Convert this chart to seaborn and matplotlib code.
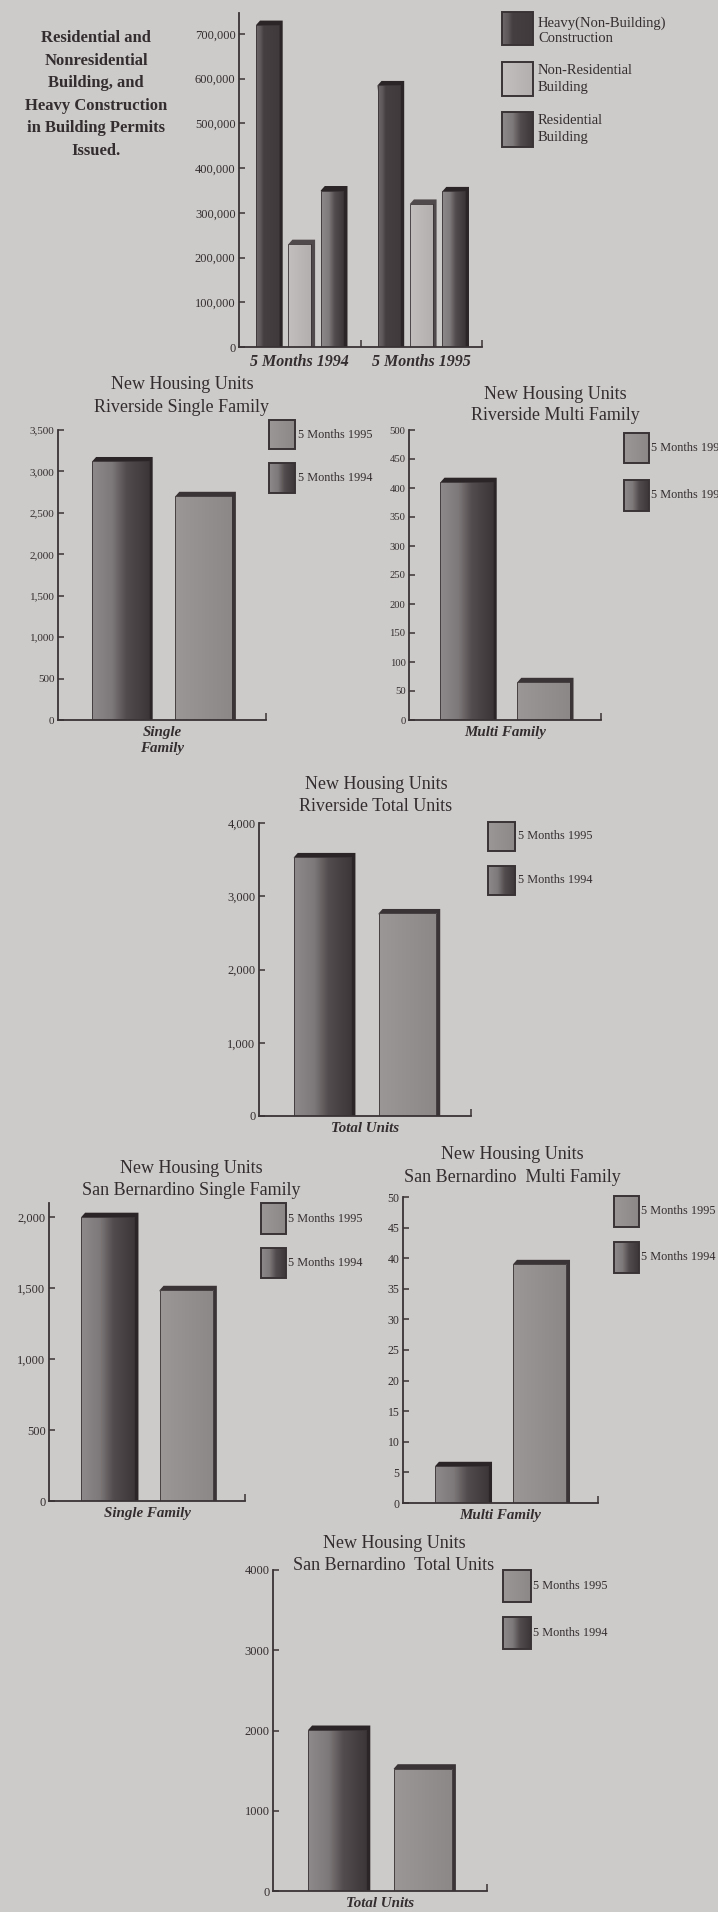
import numpy as np
import pandas as pd
import matplotlib
matplotlib.use("Agg")
import matplotlib.pyplot as plt
from matplotlib.patches import Rectangle, Polygon
from matplotlib.colors import LinearSegmentedColormap
from matplotlib.ticker import FuncFormatter, MultipleLocator
import seaborn as sns

# ---------------- data ----------------
permit_periods = ["5 Months 1994", "5 Months 1995"]
permit_types = ["Heavy(Non-Building) Construction", "Non-Residential Building", "Residential Building"]
heavy_construction = [720000, 585000]
nonresidential_building = [230000, 320000]
residential_building = [350000, 348000]

housing_periods = ["5 Months 1994", "5 Months 1995"]
riverside_single = [3120, 2700]
riverside_multi = [410, 65]
riverside_total = [3530, 2765]
sb_single = [2000, 1485]
sb_multi = [6, 39]
sb_total = [2006, 1524]

# ---------------- look ----------------
W, H, DPI = 718, 1912, 100
PAPER = "#cdcbc9"
INK = "#332d2f"
EDGE = "#3a3335"

sns.set_theme(style="white")
plt.rcParams["font.family"] = ["Liberation Serif", "DejaVu Serif"]
plt.rcParams["text.color"] = INK

STYLES = {
    "heavy": dict(stops=[(0, "#6e686a"), (0.2, "#5e5759"), (0.34, "#463f41"), (1, "#413a3c")],
                  cap="#2b2527"),
    "nonres": dict(stops=[(0, "#c2bfbe"), (1, "#b2afae")], cap="#514a4c"),
    "resid": dict(stops=[(0, "#8e898a"), (0.35, "#7d7879"), (0.6, "#534c4e"), (1, "#3d3638")],
                  cap="#2b2527"),
    "y1995": dict(stops=[(0, "#9b9797"), (1, "#8c8888")], cap="#3b3436"),
}
for s in STYLES.values():
    s["cmap"] = LinearSegmentedColormap.from_list("", s["stops"])
    s["base"] = s["stops"][-1][1]

GRAD = np.linspace(0, 1, 256)[None, :]

fig = plt.figure(figsize=(W / DPI, H / DPI), dpi=DPI, facecolor=PAPER)


def px_axes(l, t, r, b):
    ax = fig.add_axes([l / W, 1 - b / H, (r - l) / W, (b - t) / H])
    ax.set_facecolor("none")
    return ax


def fig_text(x, y, s, **kw):
    kw.setdefault("color", INK)
    return fig.text(x / W, 1 - y / H, s, **kw)


def comma(v, _):
    return f"{int(round(v)):,}"


def plain(v, _):
    return f"{int(round(v))}"


def style_axes(ax, xlim, ylim, step, fmt, tick_size, end_ticks):
    for s in ("top", "right"):
        ax.spines[s].set_visible(False)
    for s in ("left", "bottom"):
        ax.spines[s].set_color(EDGE)
        ax.spines[s].set_linewidth(1.3)
    ax.set_xlim(*xlim)
    ax.set_ylim(*ylim)
    ax.yaxis.set_major_locator(MultipleLocator(step))
    ax.yaxis.set_major_formatter(FuncFormatter(fmt))
    ax.tick_params(axis="y", direction="in", length=4, width=1.1, color=EDGE,
                   pad=2.5, labelsize=tick_size, labelcolor=INK, left=True)
    ax.set_xticks(end_ticks, minor=True)
    ax.tick_params(axis="x", which="minor", direction="in", length=5, width=1.1,
                   color=EDGE, bottom=True)
    ax.tick_params(axis="x", which="major", length=0, bottom=True)
    ax.set_xlabel("")
    ax.set_ylabel("")


def shade_bars(ax, container, style, dx_px=4.0, dy_px=4.5):
    """Give each bar a gradient face, a dark top cap and a dark right side."""
    pos = ax.get_position()
    x0, x1 = ax.get_xlim()
    y0, y1 = ax.get_ylim()
    dx = dx_px * (x1 - x0) / (pos.width * W)
    dy = dy_px * (y1 - y0) / (pos.height * H)
    for p in container.patches:
        x, w, h = p.get_x(), p.get_width(), p.get_height()
        shadow = Polygon([(x, h), (x + dx, h + dy), (x + w + dx, h + dy),
                          (x + w + dx, 0), (x + w, 0)], closed=True,
                         fc=style["cap"], ec="none", zorder=1.5)
        ax.add_patch(shadow)
        img = ax.imshow(GRAD, extent=[x, x + w, 0, h], aspect="auto",
                        cmap=style["cmap"], zorder=1.8, interpolation="bilinear")
        img.set_clip_path(p)
        p.set_facecolor("none")
        p.set_edgecolor(EDGE)
        p.set_linewidth(0.6)
        p.set_zorder(1.9)


def swatch(l, t, r, b, style):
    sax = px_axes(l, t, r, b)
    sax.set_axis_off()
    sax.imshow(GRAD, extent=[0, 1, 0, 1], aspect="auto", cmap=style["cmap"],
               interpolation="bilinear")
    sax.set_xlim(0, 1)
    sax.set_ylim(0, 1)
    sax.add_patch(Rectangle((0, 0), 1, 1, fill=False, ec=EDGE, lw=1.4,
                            transform=sax.transAxes, clip_on=False))


# ---------------- building permits ----------------
ax1 = px_axes(239, 13, 482, 347)
permits = pd.DataFrame({
    "period": np.repeat(permit_periods, 3),
    "type": permit_types * 2,
    "value": [v for trio in zip(heavy_construction, nonresidential_building, residential_building)
              for v in trio],
})
sns.barplot(data=permits, x="period", y="value", hue="type", hue_order=permit_types,
            palette=[STYLES[k]["base"] for k in ("heavy", "nonres", "resid")],
            width=0.8, gap=0.3, saturation=1, errorbar=None, legend=False, ax=ax1)
style_axes(ax1, (-0.5, 1.5), (0, 747000), 100000, comma, 9, [0.5, 1.5])
for cont, key in zip(ax1.containers, ("heavy", "nonres", "resid")):
    shade_bars(ax1, cont, STYLES[key])
ax1.set_xlim(-0.5, 1.5)
ax1.set_ylim(0, 747000)
ax1.set_xticks([0, 1])
ax1.set_xticklabels(permit_periods, fontsize=11.5, fontweight="bold",
                    fontstyle="italic", color=INK)
ax1.tick_params(axis="x", which="major", pad=5)

for line, y in zip(["Residential and", "Nonresidential", "Building, and",
                    "Heavy Construction", "in Building Permits", "Issued."],
                   [38, 61, 83, 106, 128, 151]):
    fig_text(96, y, line, ha="center", va="center", fontsize=12, fontweight="bold")

legend1 = [((12, 45), "heavy", ["Heavy(Non-Building)", "Construction"], [23, 39]),
           ((62, 96), "nonres", ["Non-Residential", "Building"], [70, 88]),
           ((112, 147), "resid", ["Residential", "Building"], [120, 137])]
for (t, b), key, lines, ys in legend1:
    swatch(502, t, 533, b, STYLES[key])
    for line, y in zip(lines, ys):
        fig_text(538, y, line, ha="left", va="center", fontsize=10.5)


# ---------------- new housing units ----------------
def housing_chart(box, category, values, ylim, step, fmt, tick_size,
                  title, title_x, title_ys, legend_x, legend_rows, text_x, text_ys):
    ax = px_axes(*box)
    df = pd.DataFrame({"group": [category] * 2, "period": housing_periods,
                       "units": values})
    sns.barplot(data=df, x="group", y="units", hue="period", hue_order=housing_periods,
                palette=[STYLES["resid"]["base"], STYLES["y1995"]["base"]],
                width=0.8, gap=0.32, saturation=1, errorbar=None, legend=False, ax=ax)
    style_axes(ax, (-0.5, 0.5), ylim, step, fmt, tick_size, [0.5])
    for cont, key in zip(ax.containers, ("resid", "y1995")):
        shade_bars(ax, cont, STYLES[key])
    ax.set_xlim(-0.5, 0.5)
    ax.set_ylim(*ylim)
    ax.set_xticks([0])
    ax.set_xticklabels([category], fontsize=10.8, fontweight="bold",
                       fontstyle="italic", color=INK, linespacing=1.3)
    ax.tick_params(axis="x", which="major", pad=4)

    for line, y in zip(title, title_ys):
        fig_text(title_x, y + 6, line, ha="center", va="baseline", fontsize=13)

    l, r = legend_x
    for (t, b), key, label, ty in zip(legend_rows, ("y1995", "resid"),
                                      ("5 Months 1995", "5 Months 1994"), text_ys):
        swatch(l, t, r, b, STYLES[key])
        fig_text(text_x, ty, label, ha="left", va="center", fontsize=8.8)
    return ax


housing_chart((58, 430, 266, 720), "Single\nFamily", riverside_single, (0, 3500), 500,
              comma, 8, ["New Housing Units", "Riverside Single Family"], 182, [383, 406],
              (269, 295), [(420, 449), (463, 493)], 298, [435, 478])

housing_chart((409, 430, 601, 720), "Multi Family", riverside_multi, (0, 500), 50,
              plain, 7.7, ["New Housing Units", "Riverside Multi Family"], 555, [393, 414],
              (624, 649), [(433, 463), (480, 511)], 651, [448, 495])

housing_chart((259, 823, 471, 1116), "Total Units", riverside_total, (0, 4000), 1000,
              comma, 9, ["New Housing Units", "Riverside Total Units"], 376, [783, 805],
              (488, 515), [(822, 851), (866, 895)], 518, [836, 880])

housing_chart((49, 1203, 245, 1501), "Single Family", sb_single, (0, 2100), 500,
              comma, 9, ["New Housing Units", "San Bernardino Single Family"], 191, [1167, 1189],
              (261, 286), [(1203, 1234), (1248, 1278)], 288, [1219, 1263])

housing_chart((403, 1197, 598, 1503), "Multi Family", sb_multi, (0, 50), 5,
              plain, 8.5, ["New Housing Units", "San Bernardino  Multi Family"], 512, [1153, 1176],
              (614, 639), [(1196, 1227), (1242, 1273)], 641, [1211, 1257])

housing_chart((273, 1570, 487, 1891), "Total Units", sb_total, (0, 4000), 1000,
              plain, 9, ["New Housing Units", "San Bernardino  Total Units"], 394, [1542, 1564],
              (503, 531), [(1570, 1602), (1617, 1649)], 533, [1586, 1633])

fig.savefig("out.png", dpi=DPI, facecolor=PAPER)
